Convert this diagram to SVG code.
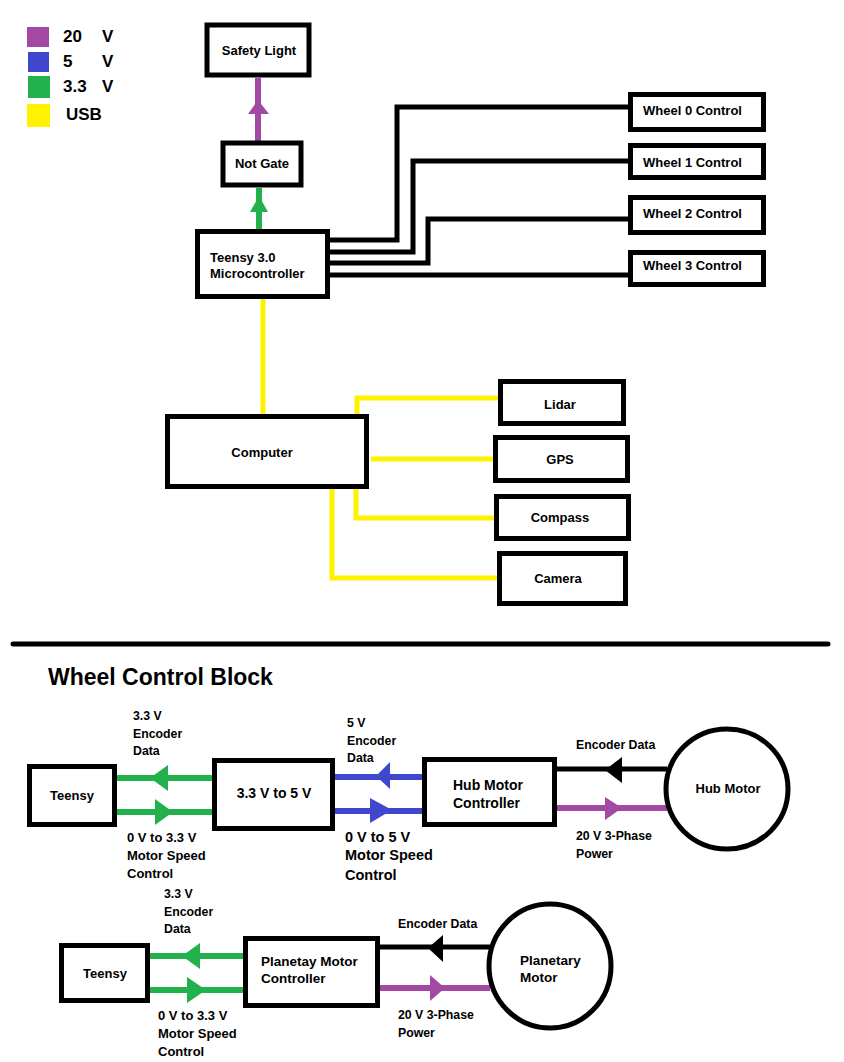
<svg xmlns="http://www.w3.org/2000/svg" width="844" height="1062" viewBox="0 0 844 1062">
<style>
text{font-family:"Liberation Sans",Arial,sans-serif;font-weight:bold;fill:#000}
.box{fill:#fff;stroke:#000;stroke-width:5}
.c{text-anchor:middle}
.k{fill:none;stroke:#000;stroke-width:5;stroke-linejoin:miter}
.y{fill:none;stroke:#fff200;stroke-width:5;stroke-linejoin:miter}
.g{fill:none;stroke:#22b14c;stroke-width:6}
.p{fill:none;stroke:#a349a4;stroke-width:6}
.b{fill:none;stroke:#3f48cc;stroke-width:6}
.gh{fill:#22b14c}.ph{fill:#a349a4}.bh{fill:#3f48cc}.kh{fill:#000}
.s13{font-size:13px}.s12{font-size:12.3px}.s14{font-size:14px}
</style>
<rect width="844" height="1062" fill="#fff"/>
<g id="legend">
<rect x="27" y="27" width="22" height="20" fill="#a349a4"/>
<rect x="28" y="52" width="21" height="20" fill="#3f48cc"/>
<rect x="28" y="76" width="22" height="22" fill="#22b14c"/>
<rect x="27" y="104" width="23" height="23" fill="#fff200"/>
<text x="63" y="42" font-size="17">20</text><text x="102" y="42" font-size="17">V</text>
<text x="63" y="67" font-size="17">5</text><text x="102" y="67" font-size="17">V</text>
<text x="63" y="92" font-size="17">3.3</text><text x="102" y="92" font-size="17">V</text>
<text x="66" y="120" font-size="17">USB</text>
</g>
<g id="connectors">
<line class="p" x1="258" y1="78" x2="258" y2="141"/>
<polygon class="ph" points="258,100 248,114 269,114"/>
<line class="g" x1="259" y1="188" x2="259" y2="229"/>
<polygon class="gh" points="259,196 250,212 268,212"/>
<path class="k" d="M330,240 H397 V107 H628"/>
<path class="k" d="M330,252 H413 V161 H628"/>
<path class="k" d="M330,263 H428 V219 H628"/>
<path class="k" d="M330,275 H628"/>
<path class="y" d="M263,299 V414"/>
<path class="y" d="M357,414 V398 H498"/>
<path class="y" d="M371,459 H493"/>
<path class="y" d="M356,489 V518 H494"/>
<path class="y" d="M332,489 V578 H497"/>
<line x1="13" y1="644" x2="828" y2="644" stroke="#000" stroke-width="5" stroke-linecap="round"/>
<line class="g" x1="117" y1="778" x2="212" y2="778"/>
<polygon class="gh" points="150,778 168,765 168,791"/>
<line class="g" x1="117" y1="812" x2="212" y2="812"/>
<polygon class="gh" points="155,799 155,825 173,812"/>
<line class="b" x1="335" y1="777" x2="422" y2="777"/>
<polygon class="bh" points="376,776 390,762 390,789"/>
<line class="b" x1="335" y1="811" x2="422" y2="811"/>
<polygon class="bh" points="370,798 370,823 392,810"/>
<line class="k" x1="557" y1="769" x2="667" y2="769"/>
<polygon class="kh" points="605,770 622,757 622,783"/>
<line class="p" x1="557" y1="808" x2="667" y2="808"/>
<polygon class="ph" points="605,797 605,820 622,808"/>
<line class="g" x1="150" y1="956" x2="243" y2="956"/>
<polygon class="gh" points="182,956 200,943 200,969"/>
<line class="g" x1="150" y1="990" x2="243" y2="990"/>
<polygon class="gh" points="187,977 187,1003 206,990"/>
<line class="k" x1="380" y1="947" x2="490" y2="947"/>
<polygon class="kh" points="428,948 443,935 443,962"/>
<line class="p" x1="380" y1="988" x2="490" y2="988"/>
<polygon class="ph" points="430,975 430,1001 445,988"/>
</g>
<g id="safety-light"><rect class="box" x="207" y="25" width="102" height="50" stroke-width="4"/><text class="c s13" x="259" y="55">Safety Light</text></g>
<g id="not-gate"><rect class="box" x="223" y="143" width="78" height="42" stroke-width="4"/><text class="c s13" x="262" y="168">Not Gate</text></g>
<g id="teensy-mcu"><rect class="box" x="197.5" y="231.5" width="130" height="65"/><text class="s13" x="210" y="262">Teensy 3.0</text><text class="s13" x="210" y="278">Microcontroller</text></g>
<g id="wheel0"><rect class="box" x="630.5" y="94.5" width="133" height="35"/><text class="s13" x="643" y="115">Wheel 0 Control</text></g>
<g id="wheel1"><rect class="box" x="630.5" y="145.5" width="133" height="32"/><text class="s13" x="643" y="167">Wheel 1 Control</text></g>
<g id="wheel2"><rect class="box" x="630.5" y="197.5" width="133" height="35"/><text class="s13" x="643" y="218">Wheel 2 Control</text></g>
<g id="wheel3"><rect class="box" x="630.5" y="252.5" width="133" height="32"/><text class="s13" x="643" y="270">Wheel 3 Control</text></g>
<g id="computer"><rect class="box" x="167.5" y="416.5" width="199" height="70"/><text class="c s13" x="262" y="457">Computer</text></g>
<g id="lidar"><rect class="box" x="500.5" y="381.5" width="123" height="42"/><text class="c s13" x="560" y="409">Lidar</text></g>
<g id="gps"><rect class="box" x="495.5" y="437.5" width="132" height="43"/><text class="c s13" x="560" y="464">GPS</text></g>
<g id="compass"><rect class="box" x="496.5" y="496.5" width="132" height="42"/><text class="c s13" x="560" y="522">Compass</text></g>
<g id="camera"><rect class="box" x="499.5" y="553.5" width="126" height="50"/><text class="c s13" x="558" y="583">Camera</text></g>
<g id="title"><text x="48" y="685" font-size="23">Wheel Control Block</text></g>
<g id="teensy-a"><rect class="box" x="29.5" y="766.5" width="85" height="58"/><text class="c s13" x="72" y="800">Teensy</text></g>
<g id="level-shifter"><rect class="box" x="214.5" y="760.5" width="118" height="68"/><text class="c s14" x="274" y="798">3.3 V to 5 V</text></g>
<g id="hub-controller"><rect class="box" x="424.5" y="759.5" width="130" height="65"/><text class="s14" x="453" y="790">Hub Motor</text><text class="s14" x="453" y="808">Controller</text></g>
<g id="hub-motor"><ellipse cx="727" cy="789" rx="61" ry="60" fill="#fff" stroke="#000" stroke-width="5"/><text class="c s13" x="728" y="793">Hub Motor</text></g>
<g id="labels-a">
<text class="s12" x="133" y="720">3.3 V</text><text class="s12" x="133" y="738">Encoder</text><text class="s12" x="133" y="755">Data</text>
<text class="s13" x="127" y="842">0 V to 3.3 V</text><text class="s13" x="127" y="860">Motor Speed</text><text class="s13" x="127" y="878">Control</text>
<text class="s12" x="347" y="727">5 V</text><text class="s12" x="347" y="745">Encoder</text><text class="s12" x="347" y="762">Data</text>
<text x="345" y="842" font-size="14.5">0 V to 5 V</text><text x="345" y="860" font-size="14.5">Motor Speed</text><text x="345" y="880" font-size="14.5">Control</text>
<text class="s12" x="576" y="749">Encoder Data</text>
<text class="s12" x="576" y="840">20 V 3-Phase</text><text class="s12" x="576" y="858">Power</text>
</g>
<g id="teensy-b"><rect class="box" x="61.5" y="945.5" width="86" height="55"/><text class="c s13" x="105" y="978">Teensy</text></g>
<g id="planetary-controller"><rect class="box" x="245.5" y="938.5" width="132" height="67"/><text x="261" y="966" font-size="13.5">Planetay Motor</text><text x="261" y="983" font-size="13.5">Controller</text></g>
<g id="planetary-motor"><ellipse cx="550" cy="966" rx="61" ry="62" fill="#fff" stroke="#000" stroke-width="5"/><text x="520" y="965" font-size="13.5">Planetary</text><text x="520" y="982" font-size="13.5">Motor</text></g>
<g id="labels-b">
<text class="s12" x="164" y="898">3.3 V</text><text class="s12" x="164" y="916">Encoder</text><text class="s12" x="164" y="933">Data</text>
<text class="s13" x="158" y="1020">0 V to 3.3 V</text><text class="s13" x="158" y="1038">Motor Speed</text><text class="s13" x="158" y="1056">Control</text>
<text class="s12" x="398" y="928">Encoder Data</text>
<text class="s12" x="398" y="1019">20 V 3-Phase</text><text class="s12" x="398" y="1037">Power</text>
</g>
</svg>
